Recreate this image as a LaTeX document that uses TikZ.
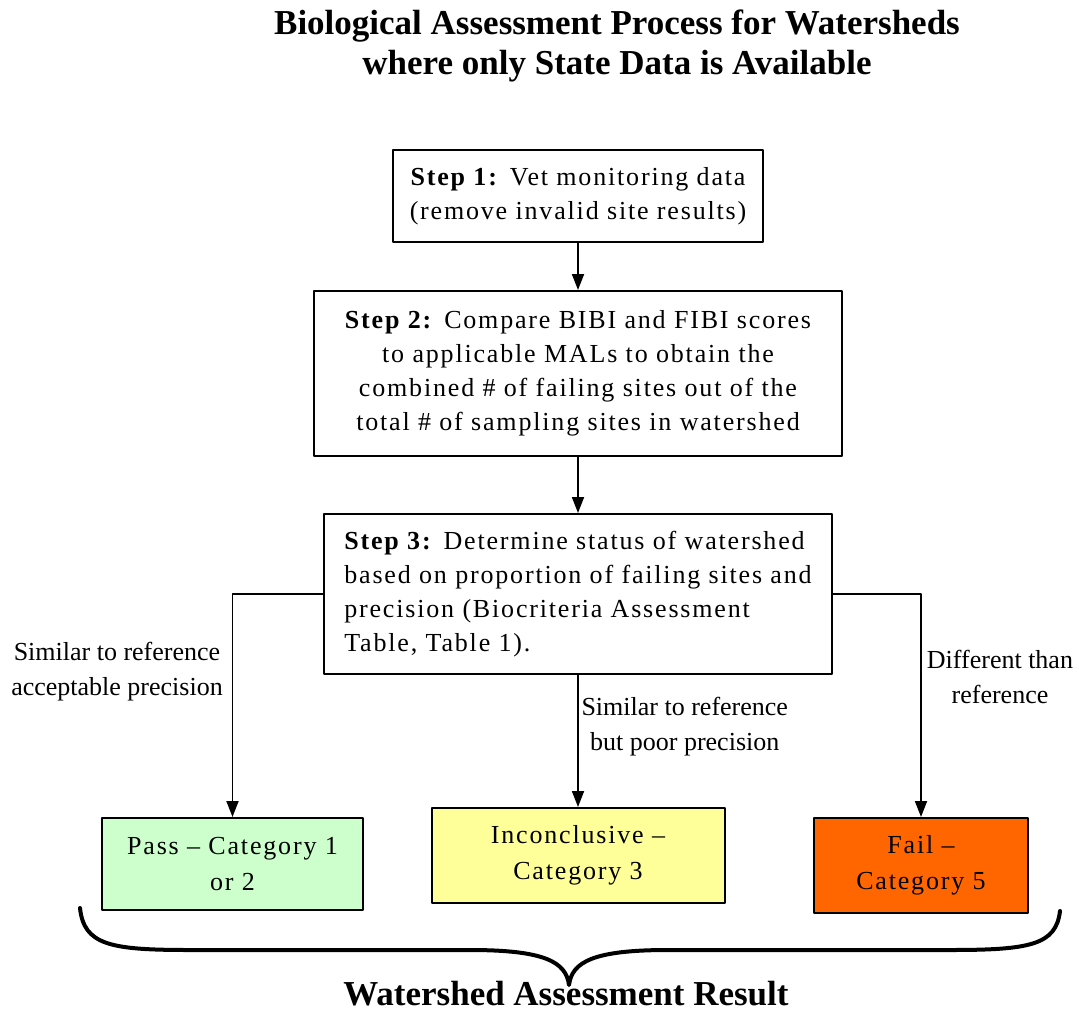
\documentclass[tikz,border=0pt]{standalone}
\usepackage{fontspec}
\setmainfont{Liberation Serif}
\newfontfamily\boxfont[LetterSpace=7]{Liberation Serif}
\usetikzlibrary{arrows.meta,positioning}
\definecolor{passgreen}{HTML}{CCFFCC}
\definecolor{inconyellow}{HTML}{FFFF99}
\definecolor{failorange}{HTML}{FF6600}

\begin{document}
\begin{tikzpicture}[x=1pt,y=-1pt,line join=round,>={Triangle[width=12pt,length=16pt]},
  stepbox/.style={draw,line width=2pt,inner sep=0pt,font=\boxfont\fontsize{26}{34}\selectfont},
  resbox/.style={stepbox,font=\boxfont\fontsize{26}{36}\selectfont,align=center},
  lbl/.style={align=center,font=\fontsize{26}{35}\selectfont},
  heading/.style={align=center,font=\fontsize{35}{40}\selectfont\bfseries},
  footer/.style={inner sep=0pt,font=\fontsize{35}{40}\selectfont\bfseries},
  link/.style={line width=1.8pt},
  brace/.style={line width=4pt,line cap=round}]
  \useasboundingbox (0,0) rectangle (1079,1015);
  % title
  \node[heading] (title) at (617,46) {Biological Assessment Process for Watersheds\\where only State Data is Available};
  % the three steps
  \node[stepbox,align=center,minimum width=370,minimum height=92] (step1) at (578,196)
    {\textbf{Step 1:} Vet monitoring data\\(remove invalid site results)};
  \node[stepbox,align=center,minimum width=528,minimum height=165] (step2) at (578,373.5)
    {\textbf{Step 2:} Compare BIBI and FIBI scores\\to applicable MALs to obtain the\\combined \# of failing sites out of the\\total \# of sampling sites in watershed};
  \node[stepbox,align=left,minimum width=508,minimum height=160] (step3) at (578,594)
    {\textbf{Step 3:} Determine status of watershed\\based on proportion of failing sites and\\precision (Biocriteria Assessment\\Table, Table 1).};
  % results
  \node[resbox,fill=passgreen,minimum width=261,minimum height=92] (pass) at (232.5,864)
    {Pass \textendash\ Category 1\\or 2};
  \node[resbox,fill=inconyellow,minimum width=293,minimum height=95] (incon) at (578,855.5)
    {Inconclusive \textendash\\Category 3};
  \node[resbox,fill=failorange,minimum width=214,minimum height=95] (fail) at (921,865.5)
    {Fail \textendash\\Category 5};
  % connectors
  \draw[link,->] (step1) -- (step2);
  \draw[link,->] (step2) -- (step3);
  \draw[link,->] (step3.west) -| (pass.north);
  \draw[link,->] (step3) -- (incon);
  \draw[link,->] (step3.east) -| (fail.north);
  \node[lbl] (lblpass) at (117,672) {Similar to reference\\acceptable precision};
  \node[lbl,anchor=west] (lblincon) at (578,727) {Similar to reference\\but poor precision};
  \node[lbl] (lblfail) at (1000,677) {Different than\\reference};
  % brace under the results
  \draw[brace] (80,908) .. controls (84,945) and (110,950) .. (190,950) -- (470,950)
    .. controls (545,950) and (566,962) .. (569,985)
    .. controls (572,962) and (593,950) .. (668,950) -- (950,950)
    .. controls (1030,950) and (1056,945) .. (1060,911);
  \node[footer,anchor=base] (result) at (566,1005) {Watershed Assessment Result};
\end{tikzpicture}
\end{document}
